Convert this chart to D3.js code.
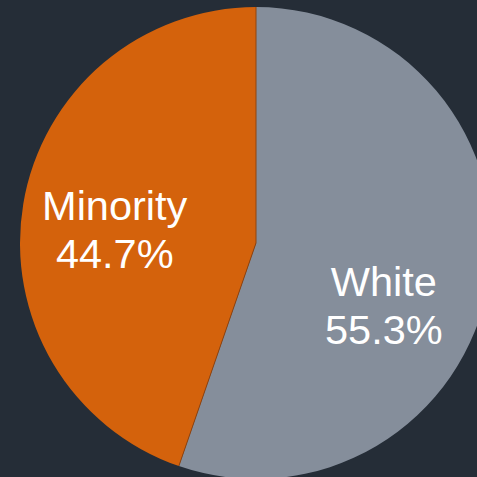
<!DOCTYPE html>
<html>
<head>
<meta charset="utf-8">
<script src="https://cdn.jsdelivr.net/npm/d3@7"></script>
<style>
  html, body { margin: 0; padding: 0; background: #252d37; }
  svg { display: block; }
</style>
</head>
<body>
<svg id="chart"></svg>
<script>
// chart data
var categories = ["White", "Minority"];
var shares = [55.3, 44.7];
var colors = ["#858e9b", "#d4620c"];

var width = 477, height = 477;
var cx = 256, cy = 243, radius = 236;
var labelRadius = 142;
// nudge labels off the mid angle (degrees) like the original layout
var labelShift = [16.3, -3.8];

var svg = d3.select("#chart")
    .attr("width", width)
    .attr("height", height);

svg.append("rect")
    .attr("width", width)
    .attr("height", height)
    .attr("fill", "#252d37");

var g = svg.append("g")
    .attr("transform", "translate(" + cx + "," + cy + ")");

var data = categories.map(function(c, i) { return {name: c, value: shares[i], color: colors[i], idx: i}; });

var pie = d3.pie()
    .sort(null)
    .value(function(d) { return d.value; });

var arc = d3.arc()
    .innerRadius(0)
    .outerRadius(radius);

var arcs = pie(data);

g.selectAll("path.slice")
    .data(arcs)
    .enter().append("path")
    .attr("class", "slice")
    .attr("d", arc)
    .attr("fill", function(d) { return d.data.color; });

// thin divider between slices
g.selectAll("line.divider")
    .data(arcs)
    .enter().append("line")
    .attr("class", "divider")
    .attr("x1", 0).attr("y1", 0)
    .attr("x2", function(d) { return radius * Math.sin(d.startAngle); })
    .attr("y2", function(d) { return -radius * Math.cos(d.startAngle); })
    .attr("stroke", "#8f4410")
    .attr("stroke-width", 1);

// labels
var labels = g.selectAll("text.label")
    .data(arcs)
    .enter().append("text")
    .attr("class", "label")
    .attr("text-anchor", "middle")
    .attr("font-family", "'Liberation Sans', Arial, sans-serif")
    .attr("font-size", 41.5)
    .attr("fill", "#ffffff")
    .attr("transform", function(d) {
        var a = (d.startAngle + d.endAngle) / 2 + labelShift[d.data.idx] * Math.PI / 180;
        return "translate(" + (labelRadius * Math.sin(a)) + "," + (-labelRadius * Math.cos(a)) + ")";
    });

labels.append("tspan")
    .attr("x", 0)
    .attr("y", -9)
    .text(function(d) { return d.data.name; });

labels.append("tspan")
    .attr("x", 0)
    .attr("y", 39)
    .text(function(d) { return d.data.value.toFixed(1) + "%"; });
</script>
</body>
</html>
